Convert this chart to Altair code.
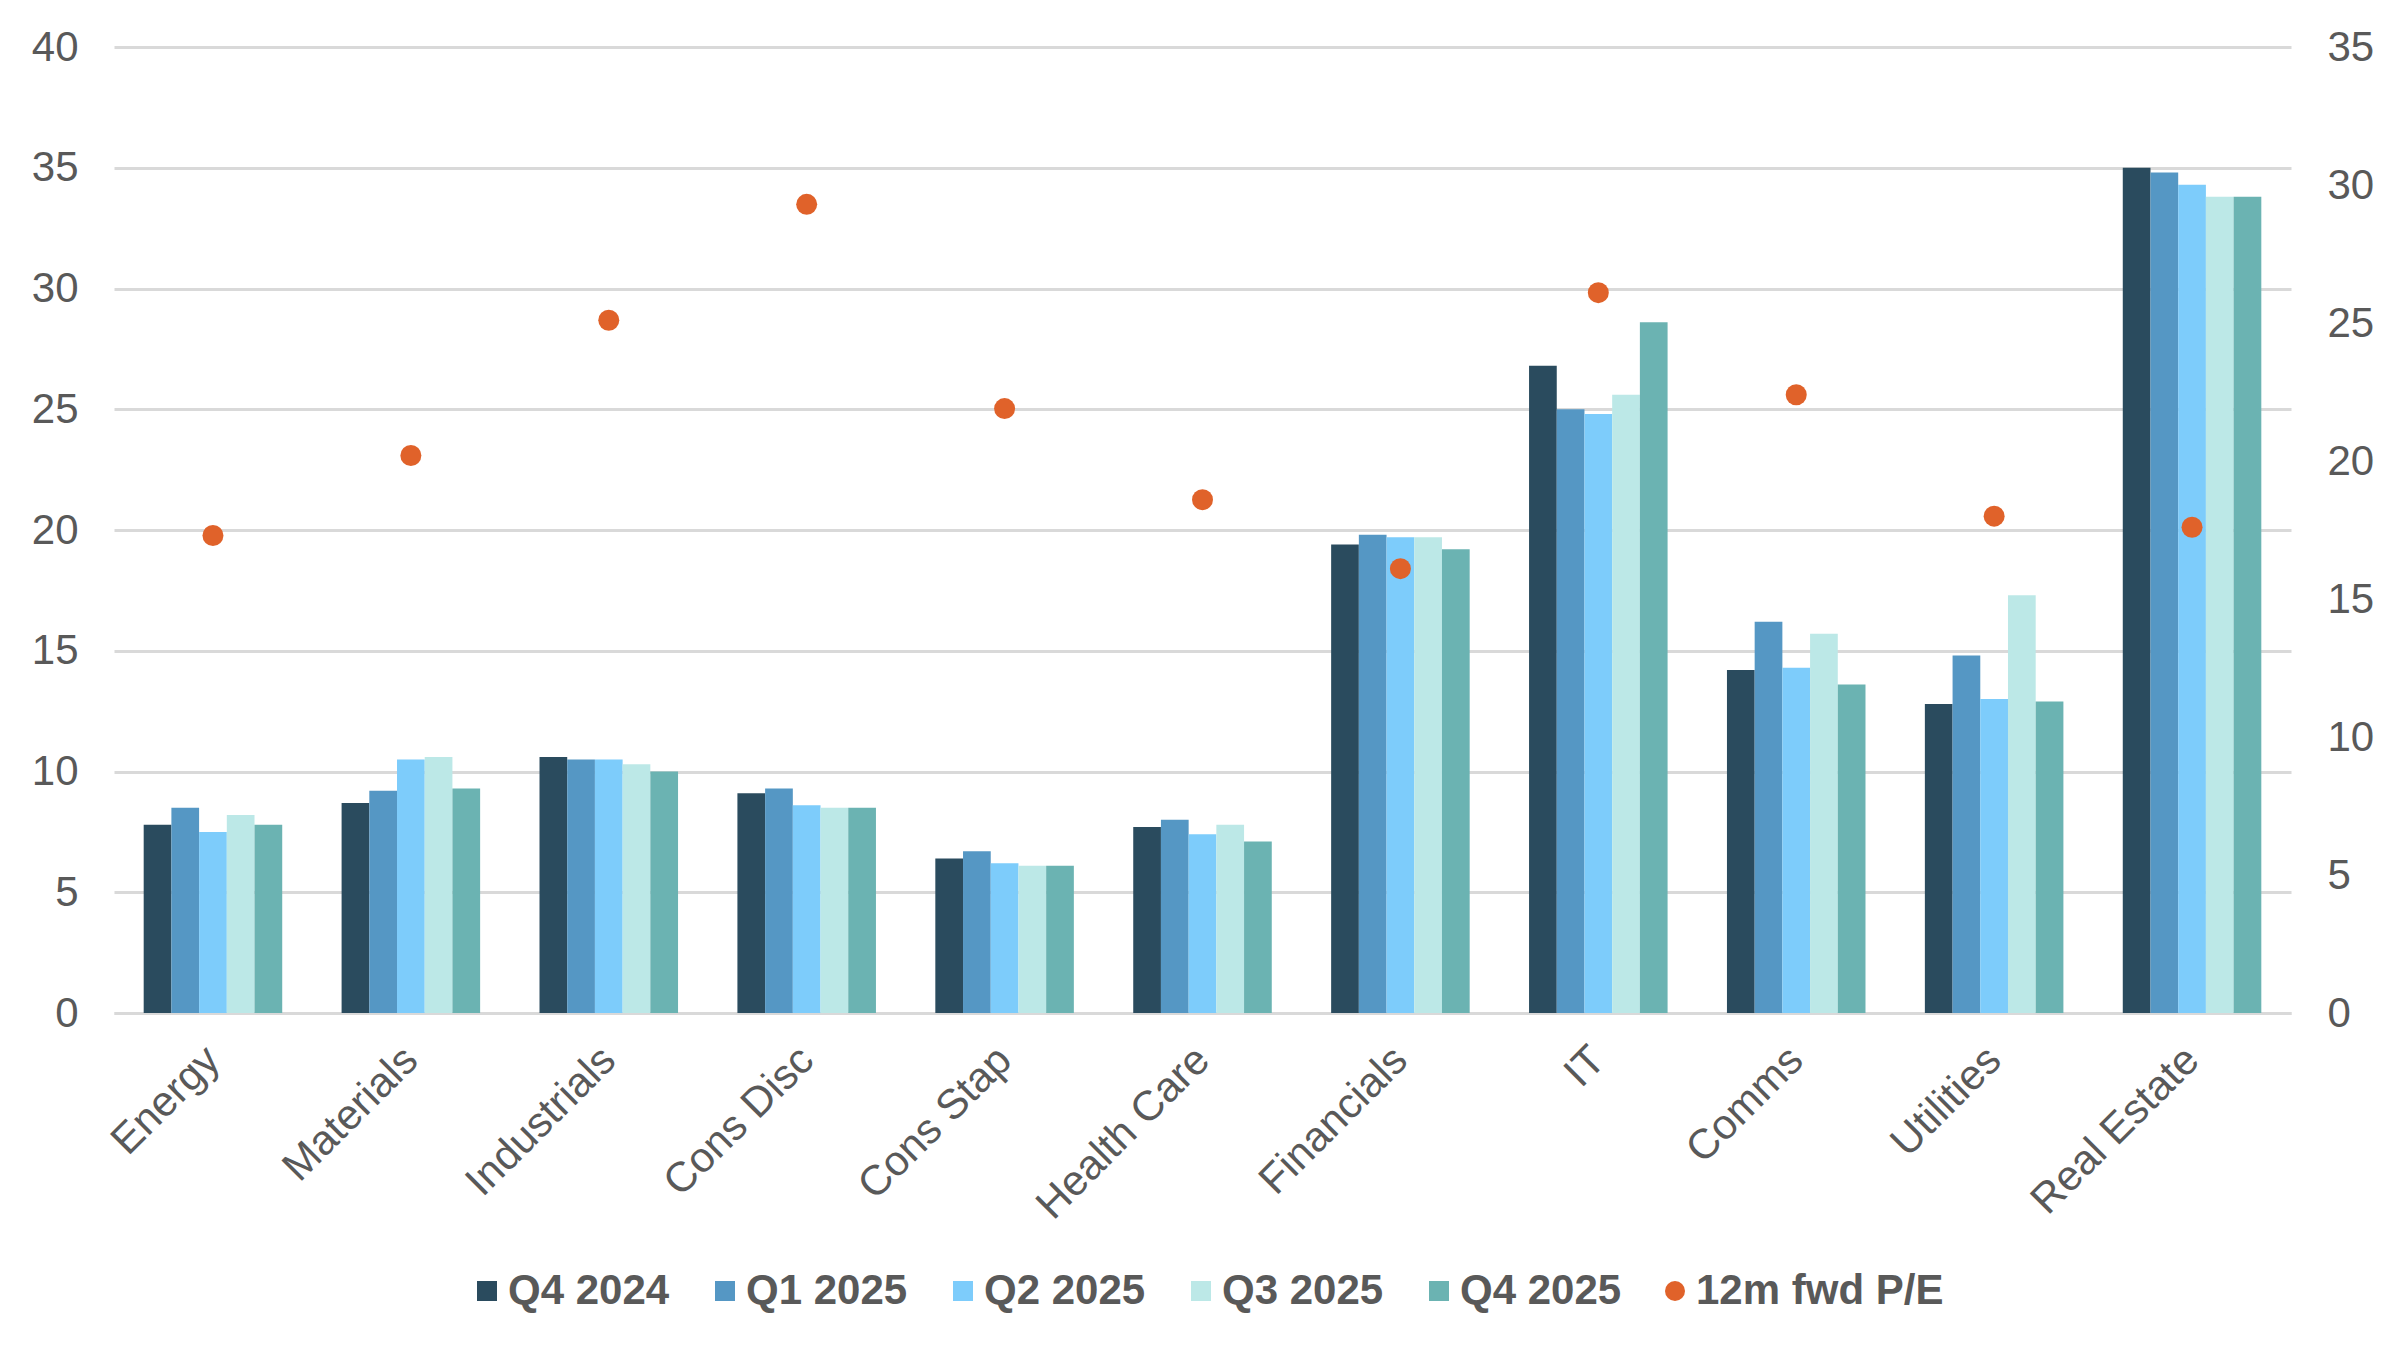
import altair as alt
import pandas as pd

sectors = ["Energy", "Materials", "Industrials", "Cons Disc", "Cons Stap", "Health Care",
           "Financials", "IT", "Comms", "Utilities", "Real Estate"]
series_names = ["Q4 2024", "Q1 2025", "Q2 2025", "Q3 2025", "Q4 2025"]
pe_name = "12m fwd P/E"

q4_2024 = [7.8, 8.7, 10.6, 9.1, 6.4, 7.7, 19.4, 26.8, 14.2, 12.8, 35.0]
q1_2025 = [8.5, 9.2, 10.5, 9.3, 6.7, 8.0, 19.8, 25.0, 16.2, 14.8, 34.8]
q2_2025 = [7.5, 10.5, 10.5, 8.6, 6.2, 7.4, 19.7, 24.8, 14.3, 13.0, 34.3]
q3_2025 = [8.2, 10.6, 10.3, 8.5, 6.1, 7.8, 19.7, 25.6, 15.7, 17.3, 33.8]
q4_2025 = [7.8, 9.3, 10.0, 8.5, 6.1, 7.1, 19.2, 28.6, 13.6, 12.9, 33.8]
fwd_pe = [17.3, 20.2, 25.1, 29.3, 21.9, 18.6, 16.1, 26.1, 22.4, 18.0, 17.6]

bar_colors = ["#2A4B5E", "#5597C4", "#7DCCFB", "#BCE8E7", "#6BB3B2"]
pe_color = "#E0622A"

left_ticks = [0, 5, 10, 15, 20, 25, 30, 35, 40]
right_ticks = [0, 5, 10, 15, 20, 25, 30, 35]

rows = []
for name, vals in zip(series_names, [q4_2024, q1_2025, q2_2025, q3_2025, q4_2025]):
    for s, v in zip(sectors, vals):
        rows.append({"sector": s, "series": name, "value": v})
df_bars = pd.DataFrame(rows)
df_pe = pd.DataFrame({"sector": sectors, "pe": fwd_pe, "metric": [pe_name] * len(sectors)})

FONT = "Liberation Sans"
GREY = "#595959"

x_enc = alt.X(
    "sector:N", sort=sectors,
    scale=alt.Scale(paddingInner=0.3, paddingOuter=0.15),
    axis=alt.Axis(title=None, labelAngle=-45, labelAlign="right", labelBaseline="middle",
                  labelPadding=40, labelLimit=0, labelOverlap=False, ticks=False, grid=False,
                  domain=True, domainColor="#D9D9D9", domainWidth=3, labelFontSize=42,
                  labelFont=FONT, labelColor=GREY),
)

legend_common = dict(
    title=None, orient="none", direction="horizontal",
    labelFont=FONT, labelFontSize=42, labelFontWeight="bold", labelLimit=0,
    labelColor=GREY, symbolSize=400, labelOffset=0, columnPadding=34,
    padding=0, symbolStrokeWidth=0,
)

bars = alt.Chart(df_bars).mark_bar().encode(
    x=x_enc,
    xOffset=alt.XOffset("series:N", sort=series_names,
                        scale=alt.Scale(paddingInner=0, paddingOuter=0)),
    y=alt.Y("value:Q", scale=alt.Scale(domain=[0, 40], nice=False),
            axis=alt.Axis(title=None, values=left_ticks, grid=True, gridColor="#D9D9D9",
                          gridWidth=3, domain=False, ticks=False, labelPadding=36,
                          labelFontSize=42, labelFont=FONT, labelColor=GREY)),
    color=alt.Color(
        "series:N",
        scale=alt.Scale(domain=series_names, range=bar_colors),
        legend=alt.Legend(legendX=352, legendY=1223, columns=5, symbolType="square",
                          **legend_common),
    ),
)

points = alt.Chart(df_pe).mark_circle(size=441, opacity=1).encode(
    x=x_enc,
    y=alt.Y("pe:Q", scale=alt.Scale(domain=[0, 35], nice=False),
            axis=alt.Axis(title=None, orient="right", values=right_ticks, grid=False,
                          domain=False, ticks=False, labelPadding=36, labelFontSize=42,
                          labelFont=FONT, labelColor=GREY)),
    color=alt.Color(
        "metric:N",
        scale=alt.Scale(domain=[pe_name], range=[pe_color]),
        legend=alt.Legend(legendX=1540, legendY=1223, columns=1, symbolType="circle",
                          **legend_common),
    ),
)

chart = alt.layer(bars, points).resolve_scale(y="independent", color="independent").properties(
    width=2177, height=966,
    padding={"left": 106, "top": 39, "right": 100, "bottom": 325},
    autosize=alt.AutoSizeParams(type="none"),
    background="white",
).configure_view(stroke=None)

chart.save("out.html", embed_options={"renderer": "svg", "actions": False})
